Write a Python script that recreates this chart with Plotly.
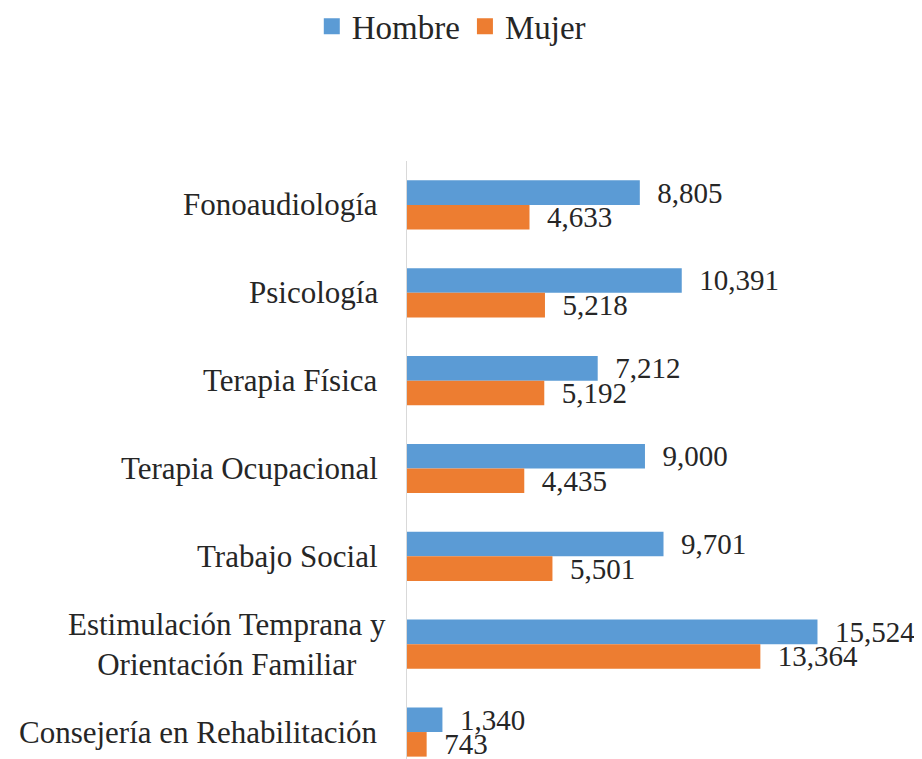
import plotly.graph_objects as go

categories = [
    "Fonoaudiología",
    "Psicología",
    "Terapia Física",
    "Terapia Ocupacional",
    "Trabajo Social",
    "Estimulación Temprana y<br>Orientación Familiar",
    "Consejería en Rehabilitación",
]
hombre = [8805, 10391, 7212, 9000, 9701, 15524, 1340]
mujer = [4633, 5218, 5192, 4435, 5501, 13364, 743]
series_names = ["Hombre", "Mujer"]

BLUE = "#5B9BD5"
ORANGE = "#ED7D31"
FONT = "Liberation Serif"
TXT = "#262626"

fig = go.Figure()
for name, vals, col in [(series_names[0], hombre, BLUE), (series_names[1], mujer, ORANGE)]:
    fig.add_trace(go.Bar(
        y=categories, x=vals, orientation="h", name=name,
        marker=dict(color=col, line=dict(width=0)),
        texttemplate="\u00a0\u00a0%{x:,}", textposition="outside",
        constraintext="none", cliponaxis=False,
        textfont=dict(family=FONT, size=29, color=TXT),
        showlegend=False,
    ))
    fig.add_trace(go.Scatter(
        x=[None], y=[None], mode="markers", name=name,
        marker=dict(symbol="square", size=17, color=col),
    ))

for i, c in enumerate(categories):
    fig.add_annotation(
        x=-0.055, xref="paper", y=c, yref="y", text=c,
        xanchor="right", yanchor="middle", align="center",
        showarrow=False, font=dict(family=FONT, size=31, color=TXT),
        xshift=8 if "<br>" in c else 0,
    )

fig.update_layout(
    width=914, height=759,
    margin=dict(l=399, r=22, t=153, b=0),
    paper_bgcolor="white", plot_bgcolor="white",
    barmode="group", bargap=0.44, bargroupgap=0,
    font=dict(family=FONT, color=TXT),
    legend=dict(
        orientation="h", xref="container", yref="container",
        x=0.485, y=0.976, xanchor="center", yanchor="middle",
        font=dict(family=FONT, size=33, color=TXT),
        itemsizing="trace", tracegroupgap=0,
    ),
    xaxis=dict(range=[0, 18645], visible=False, showgrid=False, zeroline=False),
    yaxis=dict(
        categoryorder="array", categoryarray=categories,
        range=[6.398, -0.5], showticklabels=False, ticks="",
        showline=True, linecolor="#D9D9D9", linewidth=1,
        showgrid=False, zeroline=False,
    ),
)

fig.write_html("out.html")
